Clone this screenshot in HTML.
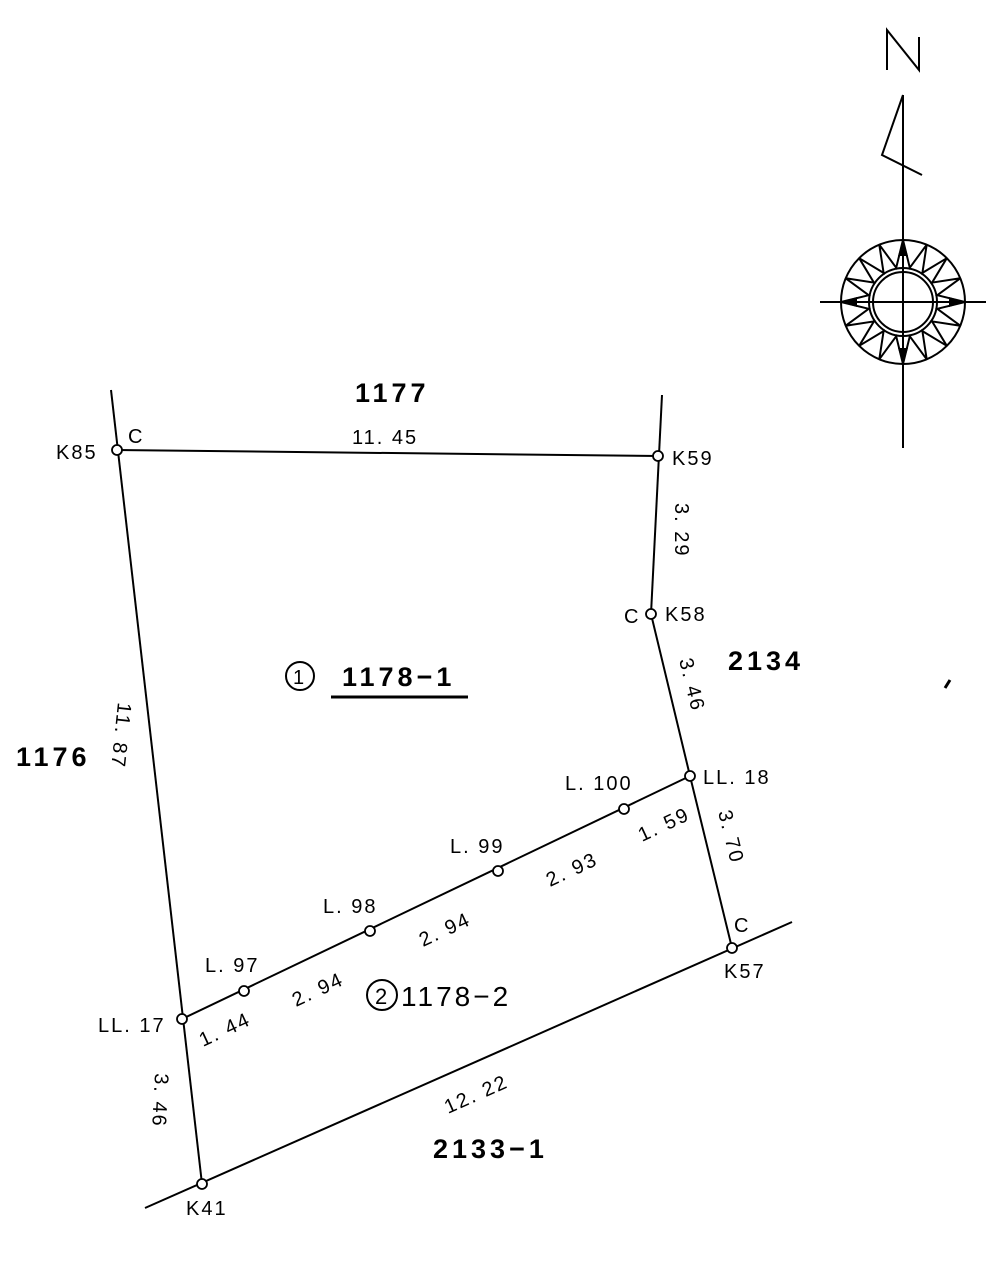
<!DOCTYPE html>
<html><head><meta charset="utf-8"><style>
html,body{margin:0;padding:0;background:#fff}
svg{display:block}
text{font-family:"Liberation Sans",sans-serif;fill:#000}
.s{font-size:20px;letter-spacing:2px}
.b{font-size:27px;font-weight:bold;letter-spacing:4px}
</style></head><body>
<svg width="992" height="1280" viewBox="0 0 992 1280" xmlns="http://www.w3.org/2000/svg">
<g stroke="#000" stroke-width="2" fill="none">
<line x1="111" y1="390" x2="202" y2="1184"/>
<line x1="662" y1="395" x2="651" y2="614"/>
<line x1="117" y1="450" x2="658" y2="456"/>
<polyline points="651,614 690,776 732,948"/>
<line x1="145" y1="1208" x2="792" y2="922"/>
<line x1="182" y1="1019" x2="690" y2="776"/>
</g>
<g stroke="#000" stroke-width="1.8" fill="#fff">
<circle cx="117" cy="450" r="5"/><circle cx="658" cy="456" r="5"/><circle cx="651" cy="614" r="5"/>
<circle cx="690" cy="776" r="5"/><circle cx="732" cy="948" r="5"/><circle cx="202" cy="1184" r="5"/>
<circle cx="182" cy="1019" r="5"/><circle cx="244" cy="991" r="5"/><circle cx="370" cy="931" r="5"/>
<circle cx="498" cy="871" r="5"/><circle cx="624" cy="809" r="5"/>
</g>
<g>
<text x="56" y="459" class="s">K85</text><text x="128" y="443" class="s">C</text>
<text x="352" y="444" class="s">11. 45</text>
<text x="672" y="465" class="s">K59</text>
<text x="624" y="623" class="s">C</text><text x="665" y="621" class="s">K58</text>
<text x="703" y="784" class="s">LL. 18</text>
<text x="565" y="790" class="s">L. 100</text>
<text x="450" y="853" class="s">L. 99</text>
<text x="323" y="913" class="s">L. 98</text>
<text x="205" y="972" class="s">L. 97</text>
<text x="98" y="1032" class="s">LL. 17</text>
<text x="734" y="932" class="s">C</text><text x="724" y="978" class="s">K57</text>
<text x="186" y="1215" class="s">K41</text>
<text class="s" transform="translate(118,702) rotate(96)">11. 87</text>
<text class="s" transform="translate(675,503) rotate(90)">3. 29</text>
<text class="s" transform="translate(679,660) rotate(76)">3. 46</text>
<text class="s" transform="translate(718,812) rotate(76)">3. 70</text>
<text class="s" transform="translate(155,1073) rotate(93)">3. 46</text>
<text class="s" transform="translate(642,842) rotate(-25)">1. 59</text>
<text class="s" transform="translate(550,887) rotate(-25)">2. 93</text>
<text class="s" transform="translate(423,947) rotate(-25)">2. 94</text>
<text class="s" transform="translate(296,1007) rotate(-25)">2. 94</text>
<text class="s" transform="translate(203,1047) rotate(-25)">1. 44</text>
<text class="s" transform="translate(448,1114) rotate(-24)">12. 22</text>
</g>
<text x="355" y="402" class="b">1177</text>
<text x="728" y="670" class="b">2134</text>
<text x="16" y="766" class="b">1176</text>
<text x="342" y="686" class="b">1178−1</text>
<line x1="331" y1="697" x2="468" y2="697" stroke="#000" stroke-width="3"/>
<circle cx="300" cy="676" r="14" stroke="#000" stroke-width="2" fill="none"/>
<text x="293" y="684" style="font-size:20px">1</text>
<text x="401" y="1006" style="font-size:28px;letter-spacing:3px">1178−2</text>
<circle cx="382" cy="995" r="15" stroke="#000" stroke-width="2" fill="none"/>
<text x="375" y="1004" style="font-size:22px">2</text>
<text x="433" y="1158" class="b">2133−1</text>
<!-- compass -->
<g stroke="#000" stroke-width="2" fill="none">
<polyline points="887,70 887,30 919,70 919,37"/>
<line x1="903" y1="95" x2="903" y2="448"/>
<line x1="820" y1="302" x2="986" y2="302"/>
<polyline points="903,95 882,155 922,175"/>
<circle cx="903" cy="302" r="62"/>
<circle cx="903" cy="302" r="34"/>
<circle cx="903" cy="302" r="30"/>
<polygon id="star" stroke-width="2"/>
</g>
<g fill="#000">
<polygon points="903,240 898,256 908,256"/><polygon points="903,364 898,348 908,348"/>
<polygon points="841,302 857,297 857,307"/><polygon points="965,302 949,297 949,307"/>
</g>
<script>
var p=[];for(var k=0;k<32;k++){var a=k*Math.PI/16-Math.PI/2;var r=k%2?35:62;p.push((903+r*Math.cos(a)).toFixed(1)+","+(302+r*Math.sin(a)).toFixed(1));}
document.getElementById("star").setAttribute("points",p.join(" "));
</script>
<line x1="945" y1="688" x2="950" y2="680" stroke="#000" stroke-width="3"/>
</svg>
</body></html>
